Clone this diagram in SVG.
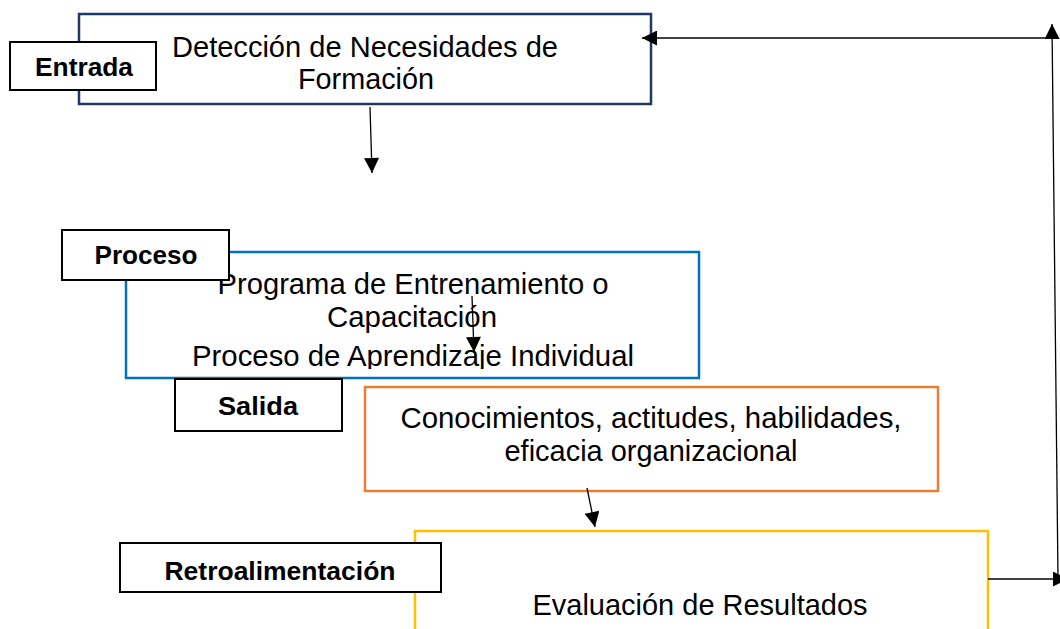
<svg xmlns="http://www.w3.org/2000/svg" width="1060" height="629" viewBox="0 0 1060 629">
<style>
.main{font-family:"Liberation Sans",Arial,sans-serif;font-size:30px;fill:#000;text-anchor:middle}
.lbl{font-family:"Liberation Sans",Arial,sans-serif;font-size:25px;font-weight:bold;fill:#000;text-anchor:middle}
.lblbox{fill:#fff;stroke:#000;stroke-width:2}
.conn{stroke:#000;stroke-width:1.3;fill:none;marker-end:url(#ah)}
</style>
<defs>
<marker id="ah" viewBox="0 0 10 10" refX="10" refY="5" markerWidth="17" markerHeight="15" markerUnits="userSpaceOnUse" orient="auto">
<path d="M0,0 L10,5 L0,10 z" fill="#000"/>
</marker>
<clipPath id="clipProc"><rect x="126" y="252" width="573" height="117"/></clipPath>
</defs>
<rect width="1060" height="629" fill="#fff"/>

<g id="n-deteccion">
<rect x="79" y="14" width="572" height="90" fill="#fff" stroke="#1f3864" stroke-width="2.5"/>
<text class="main" x="365" y="57" textLength="386" lengthAdjust="spacingAndGlyphs">Detección de Necesidades de</text>
<text class="main" x="366" y="89" textLength="136" lengthAdjust="spacingAndGlyphs">Formación</text>
</g>
<g id="n-entrada">
<rect class="lblbox" x="10" y="42" width="146" height="48"/>
<text class="lbl" x="84" y="76" textLength="98" lengthAdjust="spacingAndGlyphs">Entrada</text>
</g>

<g id="n-programa">
<rect x="126" y="252" width="573" height="126" fill="#fff" stroke="#0070c0" stroke-width="2.5"/>
<g clip-path="url(#clipProc)">
<text class="main" x="413" y="294" textLength="391" lengthAdjust="spacingAndGlyphs">Programa de Entrenamiento o</text>
<text class="main" x="412" y="327" textLength="170" lengthAdjust="spacingAndGlyphs">Capacitación</text>
<text class="main" x="413" y="366" textLength="442" lengthAdjust="spacingAndGlyphs">Proceso de Aprendizaje Individual</text>
</g>
</g>
<g id="n-proceso">
<rect class="lblbox" x="62" y="230" width="167" height="50"/>
<text class="lbl" x="146" y="264" textLength="103" lengthAdjust="spacingAndGlyphs">Proceso</text>
</g>

<g id="n-conocimientos">
<rect x="365" y="387" width="573" height="104" fill="#fff" stroke="#ed7d31" stroke-width="2.5"/>
<text class="main" x="651" y="428" textLength="501" lengthAdjust="spacingAndGlyphs">Conocimientos, actitudes, habilidades,</text>
<text class="main" x="651" y="461" textLength="293" lengthAdjust="spacingAndGlyphs">eficacia organizacional</text>
</g>
<g id="n-salida">
<rect class="lblbox" x="175" y="379" width="167" height="52"/>
<text class="lbl" x="258" y="415" textLength="80" lengthAdjust="spacingAndGlyphs">Salida</text>
</g>

<g id="n-evaluacion">
<rect x="415" y="531" width="573" height="110" fill="#fff" stroke="#ffc000" stroke-width="2.5"/>
<text class="main" x="700" y="615" textLength="335" lengthAdjust="spacingAndGlyphs">Evaluación de Resultados</text>
</g>
<g id="n-retro">
<rect class="lblbox" x="120" y="543" width="321" height="49"/>
<text class="lbl" x="280" y="580" textLength="231" lengthAdjust="spacingAndGlyphs">Retroalimentación</text>
</g>

<g id="connectors">
<line class="conn" x1="370" y1="107" x2="372" y2="173"/>
<line class="conn" x1="472" y1="296" x2="474" y2="352"/>
<line class="conn" x1="587" y1="488" x2="595" y2="527"/>
<line class="conn" x1="988" y1="579" x2="1068" y2="579"/>
<line class="conn" x1="1058" y1="579" x2="1052" y2="24"/>
<line class="conn" x1="1052" y1="38" x2="642" y2="38"/>
</g>
</svg>
